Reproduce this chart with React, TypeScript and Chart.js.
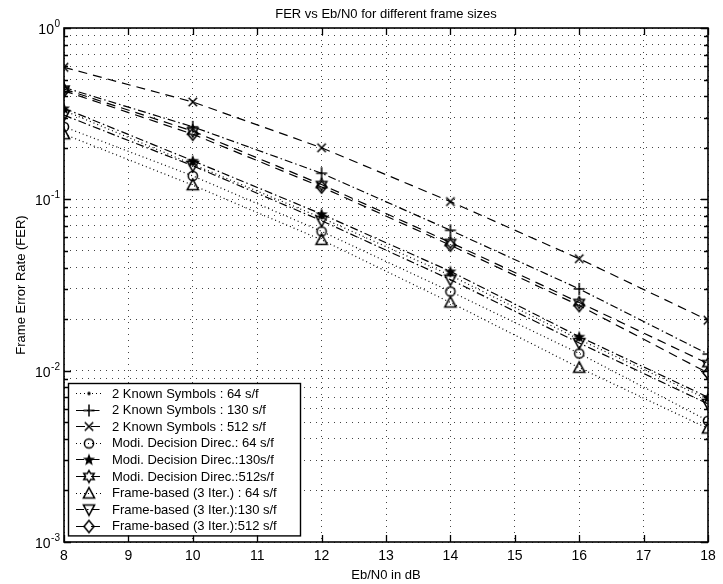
import React, { useEffect, useRef } from 'react';
import { Chart, registerables } from 'chart.js';

Chart.register(...registerables);

const W = 723;
const H = 584;
const FONT = '"Liberation Sans", Arial, Helvetica, sans-serif';

// ---- data ----
const ebn0 = [8, 10, 12, 14, 16, 18];
const known64 = [0.33, 0.16, 0.078, 0.036, 0.0152, 0.0068];
const known130 = [0.45, 0.265, 0.142, 0.066, 0.03, 0.0125];
const known512 = [0.59, 0.37, 0.2, 0.097, 0.045, 0.0197];
const modi64 = [0.265, 0.137, 0.065, 0.029, 0.0126, 0.0051];
const modi130 = [0.34, 0.168, 0.082, 0.038, 0.0158, 0.007];
const modi512 = [0.44, 0.25, 0.122, 0.056, 0.025, 0.011];
const frame64 = [0.24, 0.121, 0.058, 0.025, 0.0104, 0.0046];
const frame130 = [0.31, 0.157, 0.075, 0.034, 0.0145, 0.0064];
const frame512 = [0.43, 0.24, 0.118, 0.054, 0.024, 0.0097];

const seriesLabels = [
  '2 Known Symbols : 64 s/f',
  '2 Known Symbols : 130 s/f',
  '2 Known Symbols : 512 s/f',
  'Modi. Decision Direc.: 64 s/f',
  'Modi. Decision Direc.:130s/f',
  'Modi. Decision Direc.:512s/f',
  'Frame-based (3 Iter.) : 64 s/f',
  'Frame-based (3 Iter.):130 s/f',
  'Frame-based (3 Iter.):512 s/f',
];

const xTickValues = [8, 9, 10, 11, 12, 13, 14, 15, 16, 17, 18];
const yDecades = [0.001, 0.01, 0.1, 1];
const yTickBase = '10';
const yTickExponents = ['-3', '-2', '-1', '0'];
const yMantissas = [1, 2, 3, 4, 5, 6, 7, 8, 9];

const titleText = 'FER vs Eb/N0 for different frame sizes';
const xLabelText = 'Eb/N0 in dB';
const yLabelText = 'Frame Error Rate (FER)';

const DOTTED = [1, 3];
const DASHDOT = [8, 3, 1.5, 3];
const DASHED = [9, 6];

type MarkerKind = 'dot' | 'plus' | 'x' | 'circle' | 'star' | 'hexagram' | 'triUp' | 'triDown' | 'diamond';

function starPath(ctx: CanvasRenderingContext2D, cx: number, cy: number, n: number, ro: number, ri: number, rot: number) {
  ctx.beginPath();
  for (let i = 0; i < n * 2; i++) {
    const r = i % 2 === 0 ? ro : ri;
    const a = rot + (Math.PI * i) / n;
    const px = cx + r * Math.sin(a);
    const py = cy - r * Math.cos(a);
    if (i === 0) ctx.moveTo(px, py);
    else ctx.lineTo(px, py);
  }
  ctx.closePath();
}

function makeMarker(kind: MarkerKind): HTMLCanvasElement {
  const s = 16;
  const c = document.createElement('canvas');
  c.width = s;
  c.height = s;
  const ctx = c.getContext('2d')!;
  const m = s / 2;
  ctx.strokeStyle = '#000';
  ctx.fillStyle = '#000';
  ctx.lineWidth = 1.5;
  switch (kind) {
    case 'dot':
      ctx.beginPath();
      ctx.arc(m, m, 1.7, 0, Math.PI * 2);
      ctx.fill();
      break;
    case 'plus':
      ctx.beginPath();
      ctx.moveTo(m - 5.5, m);
      ctx.lineTo(m + 5.5, m);
      ctx.moveTo(m, m - 6);
      ctx.lineTo(m, m + 6);
      ctx.stroke();
      break;
    case 'x':
      ctx.beginPath();
      ctx.moveTo(m - 4.2, m - 4.2);
      ctx.lineTo(m + 4.2, m + 4.2);
      ctx.moveTo(m + 4.2, m - 4.2);
      ctx.lineTo(m - 4.2, m + 4.2);
      ctx.stroke();
      break;
    case 'circle':
      ctx.beginPath();
      ctx.arc(m, m, 4.6, 0, Math.PI * 2);
      ctx.stroke();
      break;
    case 'star':
      starPath(ctx, m, m + 0.5, 5, 6.4, 2.7, 0);
      ctx.fill();
      break;
    case 'hexagram':
      starPath(ctx, m, m, 6, 6, 3.4, 0);
      ctx.stroke();
      break;
    case 'triUp':
      ctx.beginPath();
      ctx.moveTo(m, m - 5.8);
      ctx.lineTo(m + 5.6, m + 4.6);
      ctx.lineTo(m - 5.6, m + 4.6);
      ctx.closePath();
      ctx.stroke();
      break;
    case 'triDown':
      ctx.beginPath();
      ctx.moveTo(m, m + 5.8);
      ctx.lineTo(m + 5.6, m - 4.6);
      ctx.lineTo(m - 5.6, m - 4.6);
      ctx.closePath();
      ctx.stroke();
      break;
    case 'diamond':
      ctx.beginPath();
      ctx.moveTo(m, m - 6);
      ctx.lineTo(m + 5, m);
      ctx.lineTo(m, m + 6);
      ctx.lineTo(m - 5, m);
      ctx.closePath();
      ctx.stroke();
      break;
  }
  return c;
}

export default function App() {
  const ref = useRef<HTMLCanvasElement>(null);

  useEffect(() => {
    const canvas = ref.current;
    if (!canvas) return;

    const specs: { label: string; data: number[]; marker: MarkerKind; dash: number[] }[] = [
      { label: seriesLabels[0], data: known64, marker: 'dot', dash: DOTTED },
      { label: seriesLabels[1], data: known130, marker: 'plus', dash: DASHDOT },
      { label: seriesLabels[2], data: known512, marker: 'x', dash: DASHED },
      { label: seriesLabels[3], data: modi64, marker: 'circle', dash: DOTTED },
      { label: seriesLabels[4], data: modi130, marker: 'star', dash: DASHDOT },
      { label: seriesLabels[5], data: modi512, marker: 'hexagram', dash: DASHED },
      { label: seriesLabels[6], data: frame64, marker: 'triUp', dash: DOTTED },
      { label: seriesLabels[7], data: frame130, marker: 'triDown', dash: DASHDOT },
      { label: seriesLabels[8], data: frame512, marker: 'diamond', dash: DASHED },
    ];
    const markerImgs = specs.map((s) => makeMarker(s.marker));

    const yGridValues: number[] = [];
    for (let d = 0; d < yDecades.length - 1; d++) {
      for (const mm of yMantissas) yGridValues.push(yDecades[d] * mm);
    }
    yGridValues.push(yDecades[yDecades.length - 1]);

    const matlabPlugin = {
      id: 'matlabFrame',
      afterDraw(chart: any) {
        const { ctx, chartArea: a, scales } = chart;
        const xs = scales.x;
        const ys = scales.y;
        ctx.save();
        ctx.setLineDash([]);
        ctx.strokeStyle = '#000';
        ctx.lineWidth = 1.6;
        ctx.strokeRect(a.left, a.top, a.right - a.left, a.bottom - a.top);

        // inward tick marks
        ctx.lineWidth = 1.3;
        ctx.beginPath();
        for (const v of xTickValues) {
          const px = Math.round(xs.getPixelForValue(v)) + 0.5;
          ctx.moveTo(px, a.bottom);
          ctx.lineTo(px, a.bottom - 7);
          ctx.moveTo(px, a.top);
          ctx.lineTo(px, a.top + 7);
        }
        for (const v of yGridValues) {
          const py = Math.round(ys.getPixelForValue(v)) + 0.5;
          const major = yDecades.some((d) => Math.abs(d - v) / d < 1e-6);
          const len = major ? 7 : 4;
          ctx.moveTo(a.left, py);
          ctx.lineTo(a.left + len, py);
          ctx.moveTo(a.right, py);
          ctx.lineTo(a.right - len, py);
        }
        ctx.stroke();

        // y tick labels: 10 with superscript exponent
        ctx.fillStyle = '#000';
        yDecades.forEach((d, i) => {
          const py = ys.getPixelForValue(d);
          ctx.font = `10px ${FONT}`;
          ctx.textAlign = 'right';
          ctx.textBaseline = 'alphabetic';
          const expW = ctx.measureText(yTickExponents[i]).width;
          const rightEdge = a.left - 4;
          ctx.fillText(yTickExponents[i], rightEdge, py - 1);
          ctx.font = `14px ${FONT}`;
          ctx.fillText(yTickBase, rightEdge - expW - 0.5, py + 6);
        });

        // title & axis labels
        ctx.font = `13px ${FONT}`;
        ctx.textAlign = 'center';
        ctx.textBaseline = 'middle';
        const cx = (a.left + a.right) / 2;
        ctx.fillText(titleText, cx, 14);
        ctx.font = `13px ${FONT}`;
        ctx.fillText(xLabelText, cx, 575);
        ctx.save();
        ctx.translate(21, (a.top + a.bottom) / 2);
        ctx.rotate(-Math.PI / 2);
        ctx.fillText(yLabelText, 0, 0);
        ctx.restore();

        // legend
        const lx = 68;
        const ly = 383;
        const lw = 232;
        const rowH = 16.6;
        const lh = rowH * specs.length + 3;
        ctx.fillStyle = '#fff';
        ctx.fillRect(lx, ly, lw, lh);
        ctx.lineWidth = 1.4;
        ctx.strokeStyle = '#000';
        ctx.strokeRect(lx + 0.5, ly + 0.5, lw, lh);
        ctx.textAlign = 'left';
        ctx.textBaseline = 'middle';
        ctx.font = `13px ${FONT}`;
        specs.forEach((s, i) => {
          const yy = ly + 10 + i * rowH;
          ctx.setLineDash(s.dash);
          ctx.lineWidth = 1.2;
          ctx.beginPath();
          ctx.moveTo(76, Math.round(yy) + 0.5);
          ctx.lineTo(102, Math.round(yy) + 0.5);
          ctx.stroke();
          ctx.setLineDash([]);
          const img = markerImgs[i];
          ctx.drawImage(img, 89 - img.width / 2, Math.round(yy) - img.height / 2 + 0.5);
          ctx.fillStyle = '#000';
          ctx.fillText(s.label, 112, yy + 1);
        });
        ctx.restore();
      },
    };

    const chart = new Chart(canvas, {
      type: 'line',
      data: {
        datasets: specs.map((s, i) => ({
          label: s.label,
          data: ebn0.map((x, j) => ({ x, y: s.data[j] })),
          borderColor: '#000',
          backgroundColor: '#000',
          borderWidth: 1.2,
          borderDash: s.dash,
          pointStyle: markerImgs[i] as any,
          pointRadius: 5,
          fill: false,
          tension: 0,
        })),
      },
      options: {
        responsive: false,
        animation: false,
        events: [],
        layout: { padding: { top: 28, right: 15, left: 0, bottom: 0 } },
        plugins: {
          legend: { display: false },
          title: { display: false },
          tooltip: { enabled: false },
        },
        scales: {
          x: {
            type: 'linear',
            min: 8,
            max: 18,
            afterBuildTicks: (scale: any) => {
              scale.ticks = xTickValues.map((v) => ({ value: v }));
            },
            ticks: {
              color: '#000',
              font: { family: FONT, size: 14 },
              padding: 6,
              maxRotation: 0,
              autoSkip: false,
              callback: (v: any) => String(v),
            },
            grid: { color: '#444', lineWidth: 1, drawTicks: false },
            border: { display: false, dash: [1, 5] },
            afterFit: (scale: any) => {
              scale.height = 42;
            },
          },
          y: {
            type: 'logarithmic',
            min: 0.001,
            max: 1,
            afterBuildTicks: (scale: any) => {
              scale.ticks = yGridValues.map((v) => ({ value: v }));
            },
            ticks: {
              display: false,
              autoSkip: false,
            },
            grid: { color: '#444', lineWidth: 1, drawTicks: false },
            border: { display: false, dash: [1, 5] },
            afterFit: (scale: any) => {
              scale.width = 64;
            },
          },
        },
      } as any,
      plugins: [matlabPlugin],
    });

    return () => chart.destroy();
  }, []);

  return (
    <div style={{ position: 'fixed', left: 0, top: 0, width: W, height: H, background: '#fff' }}>
      <canvas ref={ref} width={W} height={H} style={{ display: 'block' }} />
    </div>
  );
}
